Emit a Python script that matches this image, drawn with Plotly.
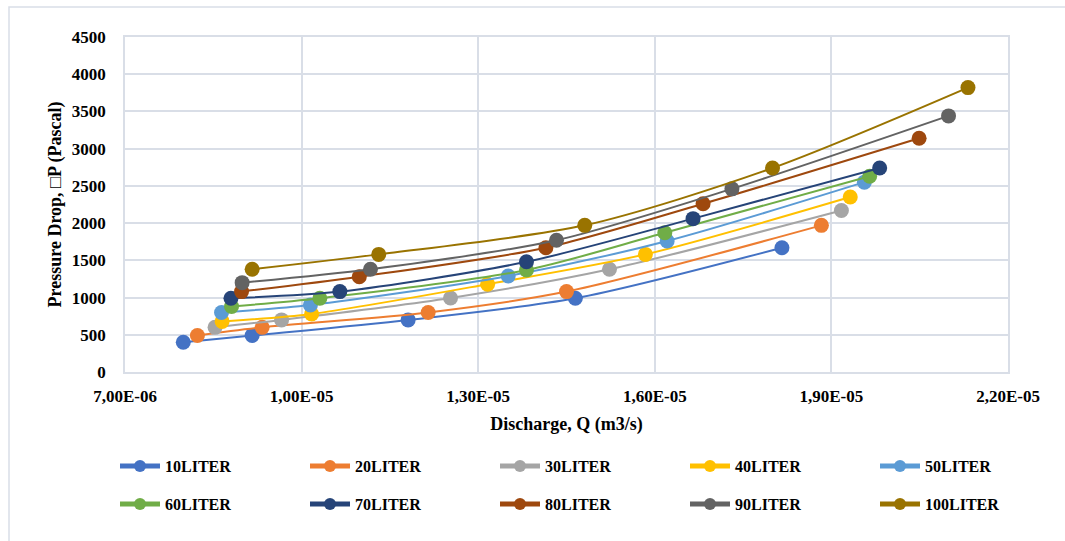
import plotly.graph_objects as go

# Discharge Q (m3/s) and pressure drop (Pa) for each tank volume
series_names = ["10LITER", "20LITER", "30LITER", "40LITER", "50LITER",
                "60LITER", "70LITER", "80LITER", "90LITER", "100LITER"]

q_10 = [7.99e-06, 9.16e-06, 1.181e-05, 1.465e-05, 1.816e-05]
p_10 = [400, 490, 700, 990, 1670]
q_20 = [8.23e-06, 9.33e-06, 1.215e-05, 1.450e-05, 1.883e-05]
p_20 = [490, 600, 800, 1080, 1970]
q_30 = [8.53e-06, 9.66e-06, 1.253e-05, 1.523e-05, 1.917e-05]
p_30 = [600, 700, 995, 1380, 2170]
q_40 = [8.65e-06, 1.017e-05, 1.316e-05, 1.584e-05, 1.932e-05]
p_40 = [680, 780, 1180, 1580, 2350]
q_50 = [8.64e-06, 1.015e-05, 1.351e-05, 1.621e-05, 1.956e-05]
p_50 = [800, 900, 1290, 1760, 2550]
q_60 = [8.81e-06, 1.031e-05, 1.382e-05, 1.617e-05, 1.965e-05]
p_60 = [880, 990, 1370, 1870, 2630]
q_70 = [8.80e-06, 1.065e-05, 1.382e-05, 1.665e-05, 1.982e-05]
p_70 = [990, 1080, 1480, 2060, 2740]
q_80 = [8.98e-06, 1.098e-05, 1.415e-05, 1.682e-05, 2.049e-05]
p_80 = [1080, 1280, 1670, 2260, 3140]
q_90 = [8.99e-06, 1.117e-05, 1.433e-05, 1.731e-05, 2.099e-05]
p_90 = [1200, 1380, 1770, 2460, 3440]
q_100 = [9.16e-06, 1.131e-05, 1.481e-05, 1.800e-05, 2.132e-05]
p_100 = [1380, 1580, 1970, 2740, 3820]

q_series = [q_10, q_20, q_30, q_40, q_50, q_60, q_70, q_80, q_90, q_100]
p_series = [p_10, p_20, p_30, p_40, p_50, p_60, p_70, p_80, p_90, p_100]

x_tick_vals = [7e-06, 1e-05, 1.3e-05, 1.6e-05, 1.9e-05, 2.2e-05]
x_tick_text = ["7,00E-06", "1,00E-05", "1,30E-05", "1,60E-05", "1,90E-05", "2,20E-05"]
y_tick_vals = [0, 500, 1000, 1500, 2000, 2500, 3000, 3500, 4000, 4500]

colors = ["#4472C4", "#ED7D31", "#A5A5A5", "#FFC000", "#5B9BD5",
          "#70AD47", "#264478", "#9E480E", "#636363", "#997300"]

FONT = "Liberation Serif"
GRID = "rgb(217,222,231)"

fig = go.Figure()
for i, (name, q, p) in enumerate(zip(series_names, q_series, p_series)):
    fig.add_trace(go.Scatter(
        x=q, y=p, name=name,
        mode="lines+markers",
        line=dict(color=colors[i], width=2, shape="spline", smoothing=0.8),
        marker=dict(color=colors[i], size=15),
        legend="legend" if i < 5 else "legend2",
    ))

# legends sit below the plot area, anchored just left of it so five entries fit per row
legend_common = dict(
    orientation="h",
    xref="paper", yref="paper",
    x=-0.002, xanchor="left", yanchor="middle",
    entrywidth=135, entrywidthmode="pixels",
    itemwidth=40,
    font=dict(family=FONT, size=16, color="#000000", weight="bold"),
    bgcolor="rgba(0,0,0,0)",
    itemsizing="constant",
    traceorder="normal",
)

fig.update_layout(
    width=1065, height=541,
    margin=dict(l=125, r=57, t=37, b=169),
    paper_bgcolor="white", plot_bgcolor="white",
    font=dict(family=FONT, color="#000000"),
    showlegend=True,
    legend=dict(legend_common, y=(372 - 466) / 335),
    legend2=dict(legend_common, y=(372 - 504) / 335),
    xaxis=dict(
        range=[7e-06, 2.2e-05],
        tickvals=x_tick_vals, ticktext=x_tick_text,
        tickfont=dict(family=FONT, size=17, color="#000000", weight="bold"),
        showgrid=True, gridcolor=GRID, gridwidth=1.5,
        showline=True, linecolor=GRID, linewidth=1.5, mirror=True,
        zeroline=False, ticks="", ticklabelstandoff=8,
        title=dict(text="<b>Discharge, Q (m3/s)</b>", font=dict(family=FONT, size=18), standoff=12),
        automargin=False,
    ),
    yaxis=dict(
        range=[0, 4500],
        tickvals=y_tick_vals,
        tickfont=dict(family=FONT, size=17, color="#000000", weight="bold"),
        showgrid=True, gridcolor=GRID, gridwidth=1.5,
        showline=True, linecolor=GRID, linewidth=1.5, mirror=True,
        zeroline=False, ticks="", ticklabelstandoff=14,
        title=dict(text="<b>Pressure Drop, \u25a1P (Pascal)</b>", font=dict(family=FONT, size=18), standoff=6),
        automargin=False,
    ),
    shapes=[dict(
        type="rect", xref="paper", yref="paper",
        x0=(9 - 125) / 883, x1=(1075 - 125) / 883,
        y0=(372 - 560) / 335, y1=(372 - 7) / 335,
        line=dict(color="rgb(217,222,231)", width=1.5),
        fillcolor="rgba(0,0,0,0)", layer="below",
    )],
)

fig.write_html("out.html")
